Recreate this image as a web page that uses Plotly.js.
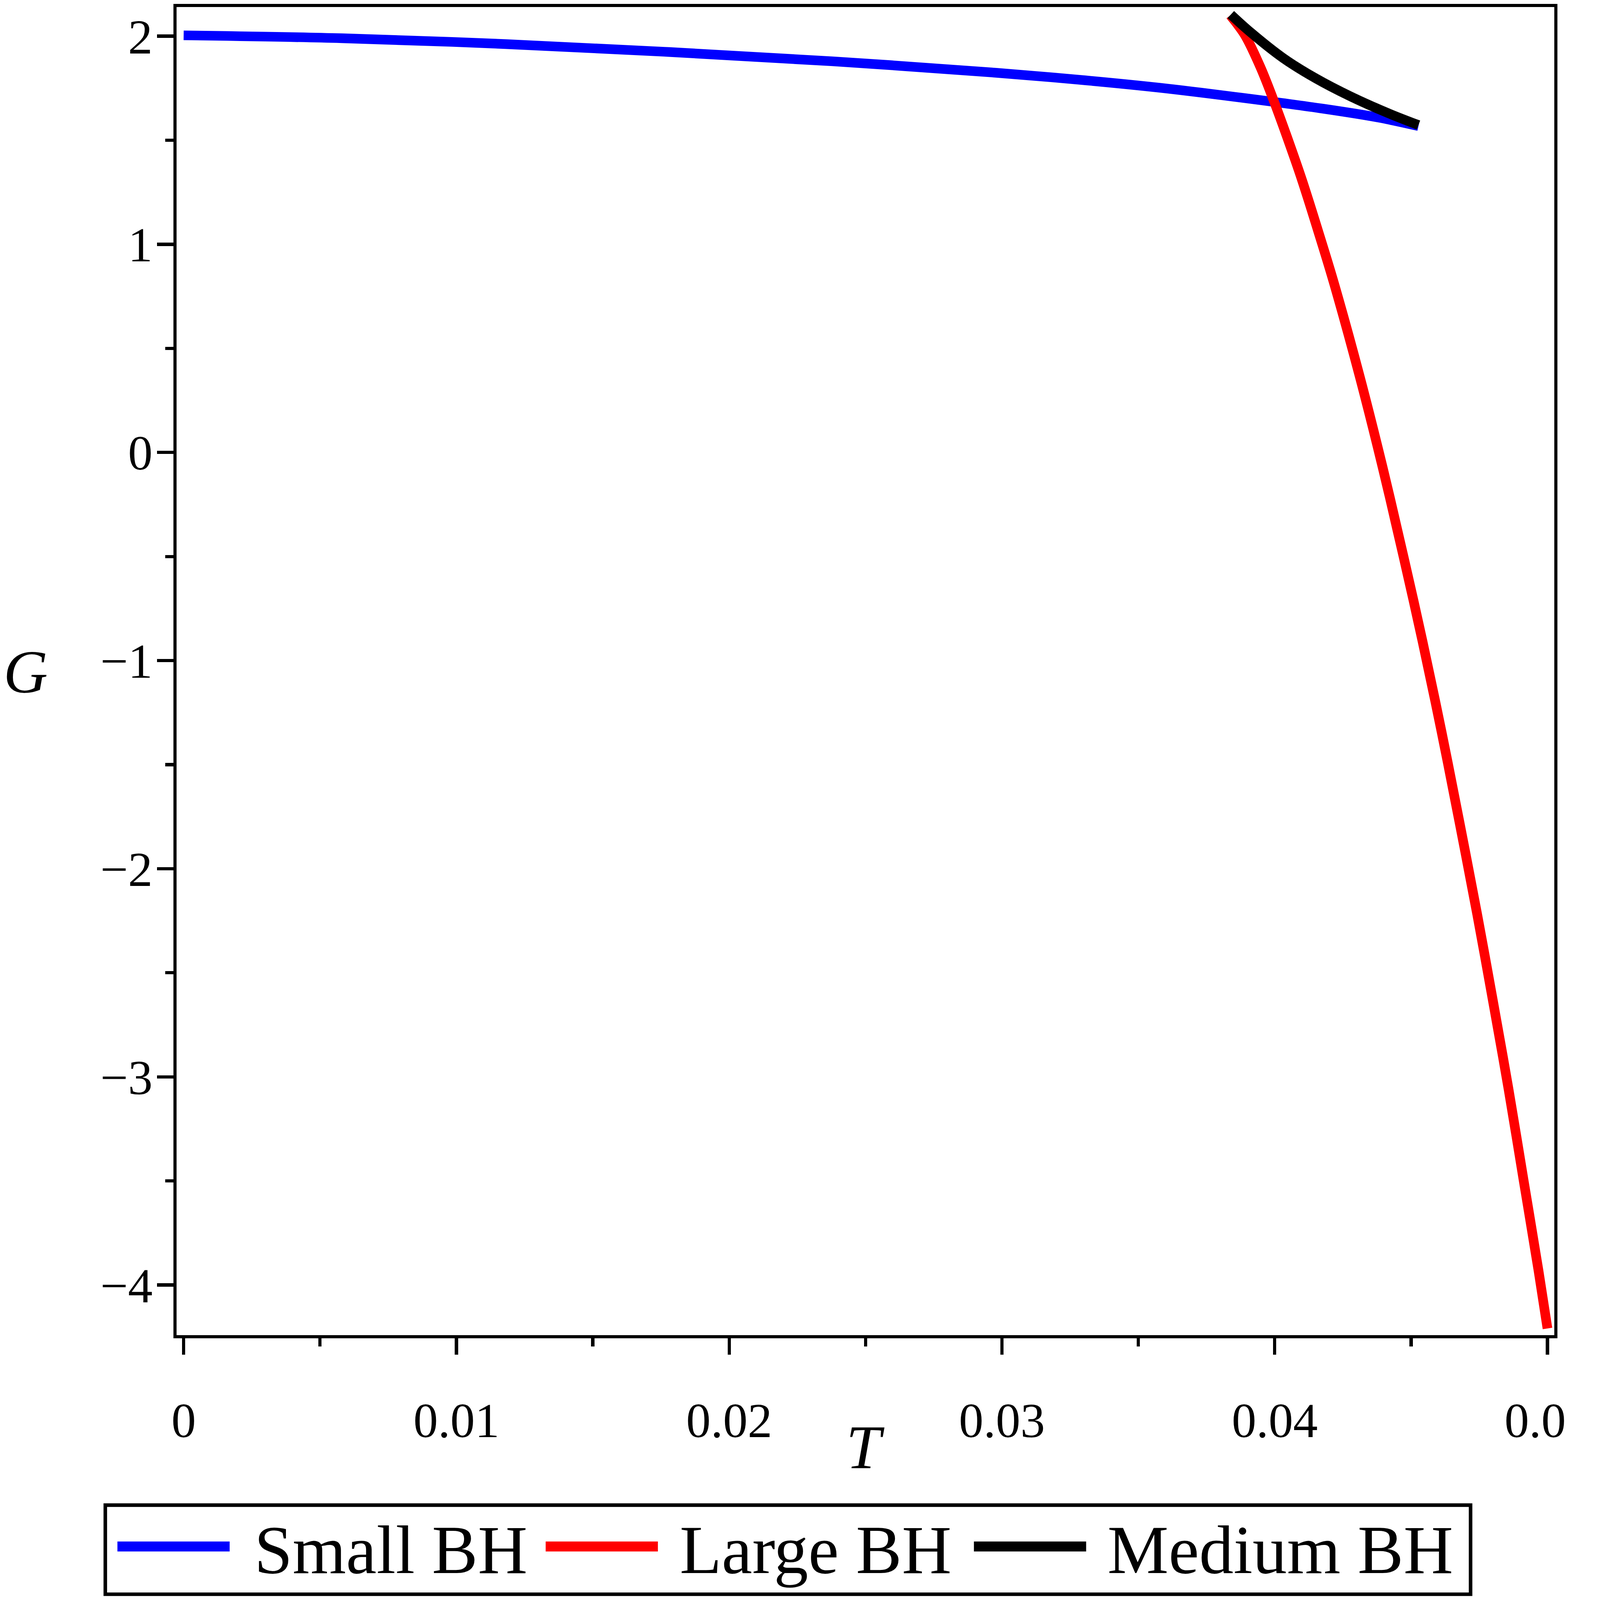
<!DOCTYPE html>
<html>
<head>
<meta charset="utf-8">
<script src="https://cdn.plot.ly/plotly-3.0.1.min.js"></script>
<style>html,body{margin:0;padding:0;background:#ffffff;overflow:hidden;}</style>
</head>
<body>
<div id="chart"></div>
<script>
// Small BH branch
const smallT = [0, 0.0058, 0.0118, 0.0178, 0.0238, 0.0298, 0.0328, 0.0358, 0.0388, 0.0418, 0.0438, 0.04527];
const smallG = [2.004, 1.990, 1.962, 1.924, 1.879, 1.824, 1.791, 1.752, 1.704, 1.651, 1.609, 1.568];
// Large BH branch
const largeT = [0.03837, 0.03867, 0.03893, 0.03948, 0.03993, 0.04056, 0.04102, 0.04165, 0.04218, 0.04311, 0.04395, 0.04473, 0.04542, 0.04612, 0.04678, 0.04742, 0.04798, 0.04857, 0.04912, 0.04967, 0.05000];
const largeG = [2.10, 2.05, 2.0, 1.85, 1.702, 1.476, 1.301, 1.039, 0.81, 0.368, -0.068, -0.505, -0.908, -1.344, -1.781, -2.217, -2.62, -3.057, -3.493, -3.93, -4.209];
// Medium BH branch
const mediumT = [0.03839, 0.03912, 0.04032, 0.04151, 0.04279, 0.04416, 0.04527];
const mediumG = [2.104, 2.018, 1.894, 1.797, 1.710, 1.630, 1.573];

const seriesNames = ['Small BH', 'Large BH', 'Medium BH'];
const seriesColors = ['#0000ff', '#ff0000', '#000000'];
const xTickVals = [0, 0.01, 0.02, 0.03, 0.04, 0.05];
const xTickText = ['0', '0.01', '0.02', '0.03', '0.04', '0.05'];
const yTickVals = [-4, -3, -2, -1, 0, 1, 2];
const yTickText = ['\u22124', '\u22123', '\u22122', '\u22121', '0', '1', '2'];
const xTitle = 'T';
const yTitle = 'G';

const FONT = '"Liberation Serif", "Times New Roman", Times, serif';

// design size 4400 x 4490, fitted to the actual viewport
const W = window.innerWidth || 4400;
const H = window.innerHeight || 4490;
const s = Math.min(W / 4400, H / 4490);
const px = v => v * s;
const ipx = v => Math.round(v * s);
const el = document.getElementById('chart');
el.style.width = px(4400) + 'px';
el.style.height = px(4490) + 'px';

// plot area in design pixels
const M = {l: 495, r: 38, t: 20, b: 743};
const PW = 4400 - M.l - M.r, PH = 4490 - M.t - M.b;
const toPX = X => (X - M.l) / PW;            // design x -> paper x
const toPY = Y => (4490 - M.b - Y) / PH;     // design y -> paper y

const data = [
  {x: smallT, y: smallG, name: seriesNames[0], mode: 'lines', line: {color: seriesColors[0], width: px(27), shape: 'spline'}},
  {x: largeT, y: largeG, name: seriesNames[1], mode: 'lines', line: {color: seriesColors[1], width: px(27), shape: 'spline'}},
  {x: mediumT, y: mediumG, name: seriesNames[2], mode: 'lines', line: {color: seriesColors[2], width: px(27), shape: 'spline'}}
];

const axisCommon = {
  showline: true, linecolor: '#000000', linewidth: px(9), mirror: true,
  showgrid: false, zeroline: false,
  ticks: 'outside', ticklen: px(46), tickwidth: px(9), tickcolor: '#000000',
  tickfont: {family: FONT, size: px(138), color: '#000000'}
};

// legend (drawn as a boxed row like the original)
const legendBox = {x0: 295, x1: 4127, y0: 4224, y1: 4474};
const legendLineX = [329, 1531, 2733];
const legendLineLen = 315;
const legendTextX = [712, 1906, 3107];
const legendLineY = 4340, legendTextY = 4349;

const shapes = [{
  type: 'rect', xref: 'paper', yref: 'paper',
  x0: toPX(legendBox.x0), x1: toPX(legendBox.x1), y0: toPY(legendBox.y1), y1: toPY(legendBox.y0),
  line: {color: '#000000', width: px(10)}, fillcolor: '#ffffff', layer: 'above'
}];
const annotations = [];
seriesNames.forEach((name, i) => {
  shapes.push({
    type: 'line', xref: 'paper', yref: 'paper',
    x0: toPX(legendLineX[i]), x1: toPX(legendLineX[i] + legendLineLen),
    y0: toPY(legendLineY), y1: toPY(legendLineY),
    line: {color: seriesColors[i], width: px(28)}, layer: 'above'
  });
  annotations.push({
    text: name, xref: 'paper', yref: 'paper',
    x: toPX(legendTextX[i]), y: toPY(legendTextY), xanchor: 'left', yanchor: 'middle',
    showarrow: false, borderpad: 0,
    font: {family: FONT, size: px(193), color: '#000000'}
  });
});
annotations.push({
  text: '<i>' + yTitle + '</i>', xref: 'paper', yref: 'paper',
  x: toPX(71), y: toPY(1886), xanchor: 'center', yanchor: 'middle', showarrow: false,
  font: {family: FONT, size: px(172), color: '#000000'}
});
annotations.push({
  text: '<i>' + xTitle + '</i>', xref: 'paper', yref: 'paper',
  x: toPX(2428), y: toPY(4062), xanchor: 'center', yanchor: 'middle', showarrow: false,
  font: {family: FONT, size: px(175), color: '#000000'}
});

const layout = {
  width: px(4400), height: px(4490),
  margin: {l: px(M.l), r: px(M.r), t: px(M.t), b: px(M.b), pad: 0},
  paper_bgcolor: '#ffffff', plot_bgcolor: '#ffffff',
  font: {family: FONT, size: px(138), color: '#000000'},
  showlegend: false,
  xaxis: Object.assign({}, axisCommon, {
    range: [-0.00026, 0.05025],
    tickmode: 'array', tickvals: xTickVals, ticktext: xTickText,
    ticklabelstandoff: ipx(66),
    ticklabeloverflow: 'allow',
    minor: {tickmode: 'linear', tick0: 0, dtick: 0.005, ticks: 'outside', ticklen: px(23), tickwidth: px(9), tickcolor: '#000000', showgrid: false},
    title: {text: ''}
  }),
  yaxis: Object.assign({}, axisCommon, {
    range: [-4.241, 2.14],
    tickmode: 'array', tickvals: yTickVals, ticktext: yTickText,
    ticklabelstandoff: ipx(-15),
    minor: {tickmode: 'linear', tick0: 0, dtick: 0.5, ticks: 'outside', ticklen: px(23), tickwidth: px(9), tickcolor: '#000000', showgrid: false},
    title: {text: ''}
  }),
  shapes: shapes,
  annotations: annotations
};

Plotly.newPlot('chart', data, layout, {staticPlot: true, displayModeBar: false});
</script>
</body>
</html>
